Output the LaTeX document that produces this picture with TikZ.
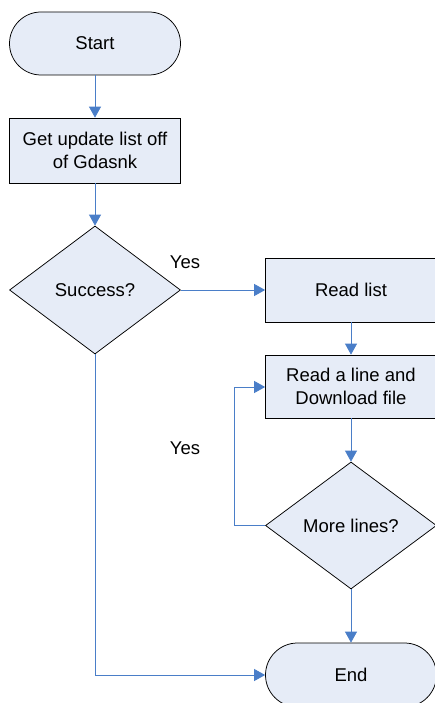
\documentclass[tikz,border=0pt]{standalone}
\usepackage{fontspec}
\setmainfont{Liberation Sans}
\usetikzlibrary{shapes.geometric,arrows.meta}
\definecolor{boxfill}{HTML}{E6ECF7}
\definecolor{linkblue}{HTML}{4A7EC8}
\begin{document}
\begin{tikzpicture}[x=1pt,y=-1pt,
  every node/.style={font=\fontsize{18.5}{22.5}\selectfont},
  term/.style={draw=black,fill=boxfill,line width=0.75pt,rounded corners=31.5pt,minimum width=171pt,minimum height=63pt,inner sep=0pt,align=center},
  procbox/.style={draw=black,fill=boxfill,line width=0.75pt,minimum width=171pt,minimum height=64pt,inner sep=0pt,align=center},
  decision/.style={draw=black,fill=boxfill,line width=0.75pt,diamond,minimum width=171pt,minimum height=128pt,inner sep=0pt,align=center},
  link/.style={draw=linkblue,line width=0.8pt,-{Triangle[length=11pt,width=12pt]}},
  lbl/.style={inner sep=0pt}]
\useasboundingbox (0,0) rectangle (434,703);
\node[term] (start) at (95,43.5) {Start};
\node[procbox,minimum height=65pt] (get) at (95,150.5) {Get update list off\\of Gdasnk};
\node[decision] (succ) at (95,290) {Success?};
\node[procbox] (read) at (351,290) {Read list};
\node[procbox,minimum height=63pt] (line) at (351,386.5) {Read a line and\\Download file};
\node[decision,minimum height=127pt] (more) at (351,525.5) {More lines?};
\node[term,minimum height=64pt,rounded corners=32pt] (end) at (351,675) {End};
\node[lbl] (yes1) at (185,262) {Yes};
\node[lbl] (yes2) at (185,448) {Yes};
\coordinate (loopa) at (234,525.5);
\coordinate (loopb) at (234,387);
\coordinate (downa) at (95,675);
\draw[link] (start) -- (get);
\draw[link] (get) -- (succ);
\draw[link] (succ.east) -- (read.west);
\draw[link] (read) -- (line);
\draw[link] (line) -- (more);
\draw[link] (more) -- (end);
\draw[link] (more.west) -- (loopa) -- (loopb) -- (line.west |- loopb);
\draw[link] (succ.south) -- (downa) -- (end.west);
\end{tikzpicture}
\end{document}
